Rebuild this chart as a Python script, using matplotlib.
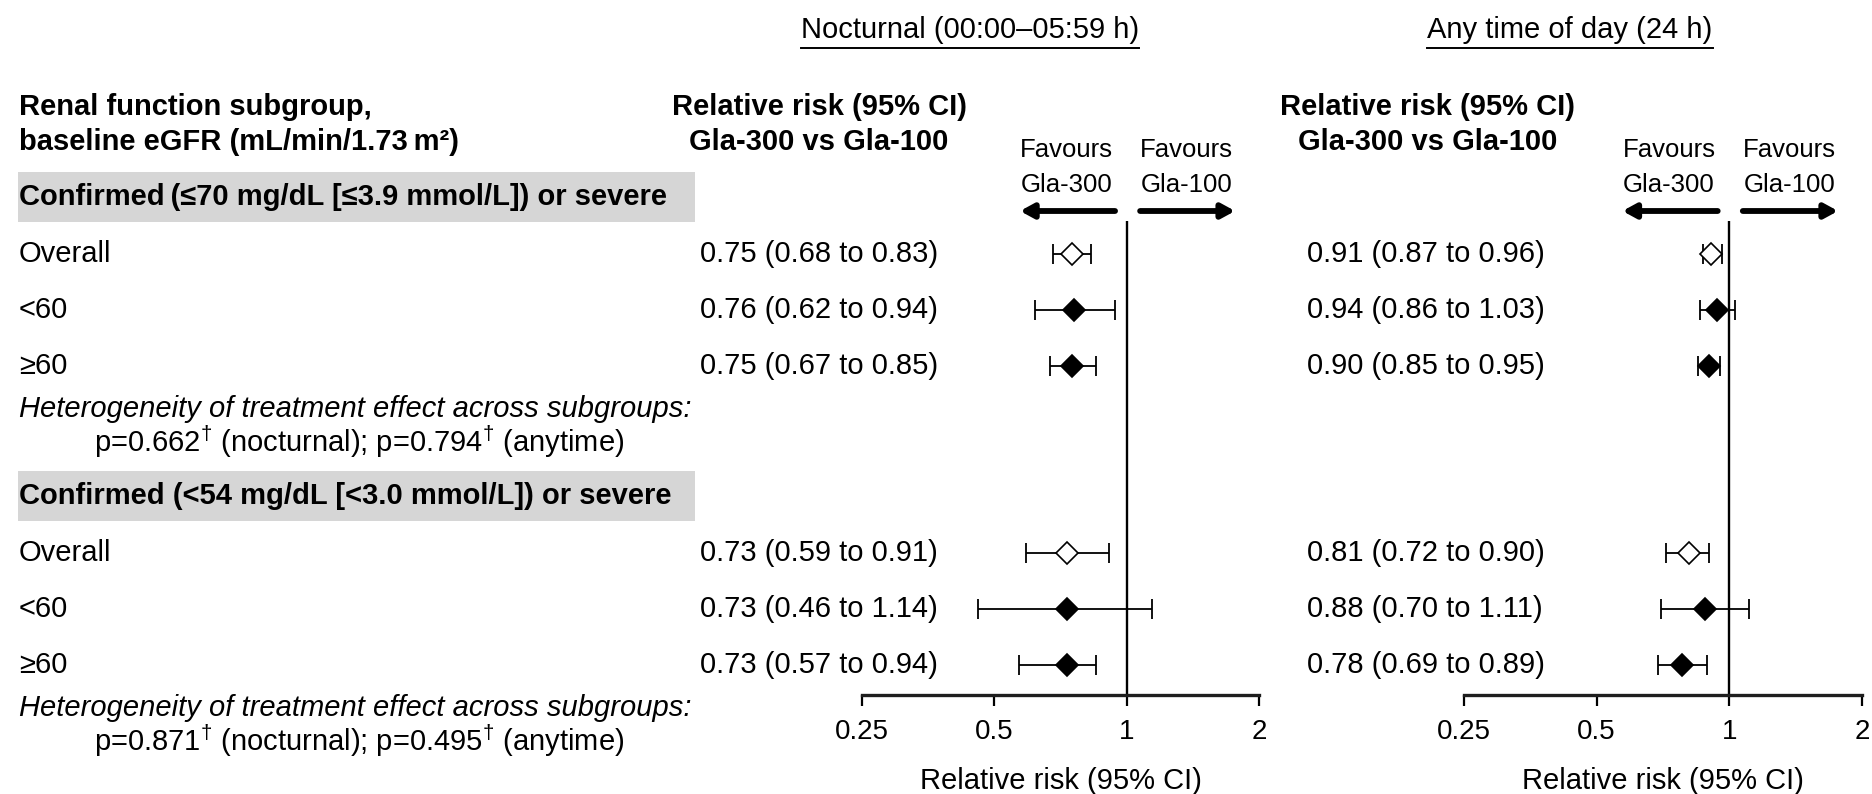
import matplotlib
matplotlib.use("Agg")
from matplotlib import pyplot as plt
from matplotlib.patches import Rectangle

plt.rcParams['font.family'] = ['Liberation Sans', 'DejaVu Sans']
plt.rcParams['mathtext.fontset'] = 'custom'
plt.rcParams['mathtext.rm'] = 'Liberation Sans'
plt.rcParams['mathtext.it'] = 'Liberation Sans:italic'
plt.rcParams['mathtext.bf'] = 'Liberation Sans:bold'

# data
subgroups = ["Overall", "<60", "\u226560"]
group_titles = ["Confirmed\u2009(\u226470 mg/dL [\u22643.9 mmol/L]) or severe",
                "Confirmed (<54 mg/dL [<3.0 mmol/L]) or severe"]

# printed estimates
noct_text = [["0.75 (0.68 to 0.83)", "0.76 (0.62 to 0.94)", "0.75 (0.67 to 0.85)"],
             ["0.73 (0.59 to 0.91)", "0.73 (0.46 to 1.14)", "0.73 (0.57 to 0.94)"]]
any_text = [["0.91 (0.87 to 0.96)", "0.94 (0.86 to 1.03)", "0.90 (0.85 to 0.95)"],
            ["0.81 (0.72 to 0.90)", "0.88 (0.70 to 1.11)", "0.78 (0.69 to 0.89)"]]

# plotted estimates (as drawn in the figure)
noct_rr = [[0.75, 0.76, 0.75], [0.73, 0.73, 0.73]]
noct_lo = [[0.68, 0.62, 0.67], [0.59, 0.46, 0.57]]
noct_hi = [[0.83, 0.94, 0.85], [0.91, 1.14, 0.85]]

any_rr = [[0.91, 0.94, 0.90], [0.81, 0.88, 0.78]]
any_lo = [[0.87, 0.86, 0.85], [0.72, 0.70, 0.69]]
any_hi = [[0.96, 1.03, 0.95], [0.90, 1.11, 0.89]]

p_noct = ["0.662", "0.871"]
p_any = ["0.794", "0.495"]

ticks = [0.25, 0.5, 1, 2]
tick_labels = ["0.25", "0.5", "1", "2"]

# layout (pixel units, y from top)
W, H = 1872, 794
row_top = [254, 553]
row_step = 56
FS = 21

fig = plt.figure(figsize=(W / 100, H / 100), dpi=100)
bg = fig.add_axes([0, 0, 1, 1])
bg.set_xlim(0, W)
bg.set_ylim(H, 0)
bg.axis('off')

# column headers
bg.text(19, 107, "Renal function subgroup,", fontsize=FS, fontweight='bold', va='center')
bg.text(19, 142, "baseline eGFR (mL/min/1.73\u2009m\u00b2)", fontsize=FS, fontweight='bold', va='center')
for cx in [819, 1428]:
    bg.text(cx, 107, "Relative risk (95% CI)", fontsize=FS, fontweight='bold', ha='center', va='center')
    bg.text(cx, 142, "Gla-300 vs Gla-100", fontsize=FS, fontweight='bold', ha='center', va='center')

# panel titles, underlined
titles = []
for cx, t in [(970, "Nocturnal (00:00\u201305:59 h)"), (1570, "Any time of day (24 h)")]:
    titles.append(bg.text(cx, 30, t, fontsize=FS, ha='center', va='center'))
fig.canvas.draw()
r = fig.canvas.get_renderer()
for t in titles:
    bb = t.get_window_extent(r)
    bg.plot([bb.x0, bb.x1], [48, 48], color='black', lw=1.4)

for g in range(2):
    hy = row_top[g] - 57
    bg.add_patch(Rectangle((18, hy - 25), 677, 50, facecolor='#d6d6d6', edgecolor='none'))
    bg.text(19, hy, group_titles[g], fontsize=FS, fontweight='bold', va='center')
    for i, lab in enumerate(subgroups):
        y = row_top[g] + i * row_step
        bg.text(19, y, lab, fontsize=FS, va='center')
        bg.text(700, y, noct_text[g][i], fontsize=FS, va='center')
        bg.text(1307, y, any_text[g][i], fontsize=FS, va='center')
    ht = row_top[g] + 2 * row_step + 43
    bg.text(19, ht, "Heterogeneity of treatment effect across subgroups:", fontsize=FS,
            style='italic', va='center')
    bg.text(359, ht + 33, "p=%s$^{\\dagger}$ (nocturnal); p=%s$^{\\dagger}$ (anytime)" % (p_noct[g], p_any[g]),
            fontsize=FS, ha='center', va='center')


def forest(left, right, rr, lo, hi):
    ax = fig.add_axes([left / W, (H - 695) / H, (right - left) / W, (695 - 221) / H])
    ax.patch.set_alpha(0)
    ax.set_xscale('log', base=2)
    ax.set_xlim(0.25, 2)
    ax.set_ylim(695, 221)
    for s in ['top', 'right', 'left']:
        ax.spines[s].set_visible(False)
    ax.spines['bottom'].set_linewidth(2.4)
    ax.spines['bottom'].set_color('#1e1e1e')
    ax.set_yticks([])
    ax.set_xticks(ticks)
    ax.set_xticklabels(tick_labels)
    ax.minorticks_off()
    ax.tick_params(axis='x', length=8, width=1.6, labelsize=20, pad=9)
    ax.axvline(1, color='black', lw=1.7)
    for g in range(2):
        for i in range(3):
            y = row_top[g] + i * row_step
            xerr = [[rr[g][i] - lo[g][i]], [hi[g][i] - rr[g][i]]]
            ax.errorbar(rr[g][i], y, xerr=xerr, fmt='none', ecolor='black', elinewidth=1.3,
                        capsize=7, capthick=1.3)
            face = 'white' if i == 0 else 'black'
            ax.plot(rr[g][i], y, marker='D', ms=10.8, mfc=face, mec='black', mew=1.2, zorder=3)
    # favours labels and arrows
    for x, t in [(0.73, "Gla-300"), (1.37, "Gla-100")]:
        ax.text(x, 150, "Favours", fontsize=18.5, ha='center', va='center', clip_on=False)
        ax.text(x, 185, t, fontsize=18.5, ha='center', va='center', clip_on=False)
    astyle = dict(arrowstyle='-|>,head_length=0.55,head_width=0.3', lw=4.2, color='black',
                  mutation_scale=14, shrinkA=0, shrinkB=0)
    ax.annotate('', xy=(0.572, 211), xytext=(0.941, 211), arrowprops=astyle, annotation_clip=False)
    ax.annotate('', xy=(1.765, 211), xytext=(1.073, 211), arrowprops=astyle, annotation_clip=False)
    ax.set_xlabel("Relative risk (95% CI)", fontsize=FS, labelpad=16)
    return ax


forest(862, 1259, noct_rr, noct_lo, noct_hi)
forest(1464, 1862, any_rr, any_lo, any_hi)

fig.savefig("out.png", dpi=100)
